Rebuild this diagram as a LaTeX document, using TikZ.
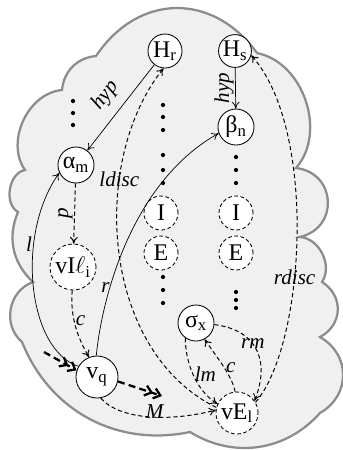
\documentclass[tikz,border=0pt]{standalone}
\usepackage{fontspec}
\setmainfont{Liberation Serif}
\usetikzlibrary{arrows.meta}

\begin{document}
\begin{tikzpicture}[x=0.025cm, y=-0.025cm, >={To[length=1.7mm,width=2mm]},
  font=\fontsize{17}{19}\selectfont,
  st/.style={draw, circle, fill=white, line width=0.6pt, inner sep=0pt},
  dst/.style={st, dash pattern=on 2.6pt off 1.8pt},
  lbl/.style={font=\fontsize{15}{17}\selectfont\itshape, inner sep=1pt},
  sline/.style={line width=0.5pt},
  dline/.style={line width=0.7pt, dash pattern=on 3pt off 2pt},
  dbl/.style={line width=1.6pt, dash pattern=on 5pt off 3pt, -{Straight Barb[length=1.6mm,width=2.6mm]Straight Barb[length=1.6mm,width=2.6mm]}},
  dot/.style={circle, fill=black, inner sep=0pt, minimum size=3pt},
  cloud/.style={draw=black!45, line width=1.6pt, fill=black!6}]

\useasboundingbox (0,0) rectangle (343,450);

% background cloud
\path[cloud] (62,90) to[bend left=40] (96,56) to[bend left=55, looseness=1.2] (257,53)
  to[bend left=60] (296,168) to[bend left=80, looseness=1.5] (300,237)
  to[bend left=60] (322,282) to[bend left=60, looseness=1.2] (320,337)
  to[bend left=60, looseness=1.2] (320,413) to[bend left=40] (190,432)
  to[bend left=40] (22,342) to[bend left=60, looseness=1.1] (33,282)
  to[bend left=35] (18,212) to[bend left=70] (25,170)
  to[bend left=60] cycle;

% states
\node[st, minimum size=0.85cm] (Hr) at (165,51) {H\textsubscript{r}};
\node[st, minimum size=0.82cm] (Hs) at (235,51) {H\textsubscript{s}};
\node[st, minimum size=0.9cm] (alpha) at (76,165) {α\textsubscript{m}};
\node[st, minimum size=0.9cm] (beta) at (236,127) {β\textsubscript{n}};
\node[dst, minimum size=1.15cm] (vIl) at (73,267) {vI$\ell$\textsubscript{i}};
\node[dst, minimum size=0.85cm] (Il) at (161,213) {I};
\node[dst, minimum size=0.85cm] (El) at (161,253) {E};
\node[dst, minimum size=0.85cm] (Ir) at (236,213) {I};
\node[dst, minimum size=0.85cm] (Er) at (236,253) {E};
\node[st, minimum size=1.05cm] (vq) at (97,377) {v\textsubscript{q}};
\node[st, minimum size=0.9cm] (sigma) at (196,323) {σ\textsubscript{x}};
\node[dst, minimum size=1.05cm] (vEl) at (237,413) {vE\textsubscript{l}};

% dots
\foreach \y in {101,113,125} \node[dot] at (73,\y) {};
\foreach \y in {105,117,130,155,170,183,277,290,303} \node[dot] at (163,\y) {};
\foreach \y in {157,170,183,292,300,308} \node[dot] at (236,\y) {};

% in / out of vq
\coordinate (qin) at (44,352);
\coordinate (qout) at (162,396);
\draw[dbl] (qin) -- (vq.162);
\draw[dbl] (vq.-12) -- (qout);

% transitions
\draw[sline,->] (Hr) -- node[lbl, sloped, above=6pt] {hyp} (alpha);
\draw[sline,->] (Hs) -- node[lbl, rotate=90, anchor=south] {hyp} (beta);
\draw[dline,->] (alpha) -- node[lbl, rotate=90, anchor=south] {p} (vIl);
\draw[dline,->] (vIl.268) .. controls (70,318) and (78,338) .. node[lbl, pos=0.4, right] {c} (vq.112);
\draw[sline,->] (vq.150) .. controls (28,350) and (15,235) .. node[lbl, pos=0.68, left=0pt] {l} (alpha.205);
\draw[sline,->] (vq.92) .. controls (103,290) and (135,180) .. node[lbl, pos=0.3, left=-1pt] {r} (beta.200);
\draw[dline,->] (vEl.165) .. controls (100,350) and (90,160) .. node[lbl, pos=0.68] {ldisc} (Hr.265);
\draw[dline,->] (vEl.30) .. controls (305,345) and (318,130) .. node[lbl, pos=0.4] {rdisc} (Hs.-15);
\draw[dline,->] (vq.-80) .. controls (120,420) and (170,422) .. node[lbl, pos=0.55, above=-2pt] {M} (vEl.172);
\draw[dline,->] (sigma.235) .. controls (185,360) and (195,390) .. node[lbl, pos=0.5, right] {lm} (vEl.155);
\draw[dline,->] (vEl.95) .. controls (232,375) and (215,355) .. node[lbl, pos=0.45, right] {c} (sigma.-62);
\draw[dline,->] (sigma.-5) .. controls (258,330) and (270,362) .. node[lbl, pos=0.42] {rm} (vEl.35);
\end{tikzpicture}
\end{document}
